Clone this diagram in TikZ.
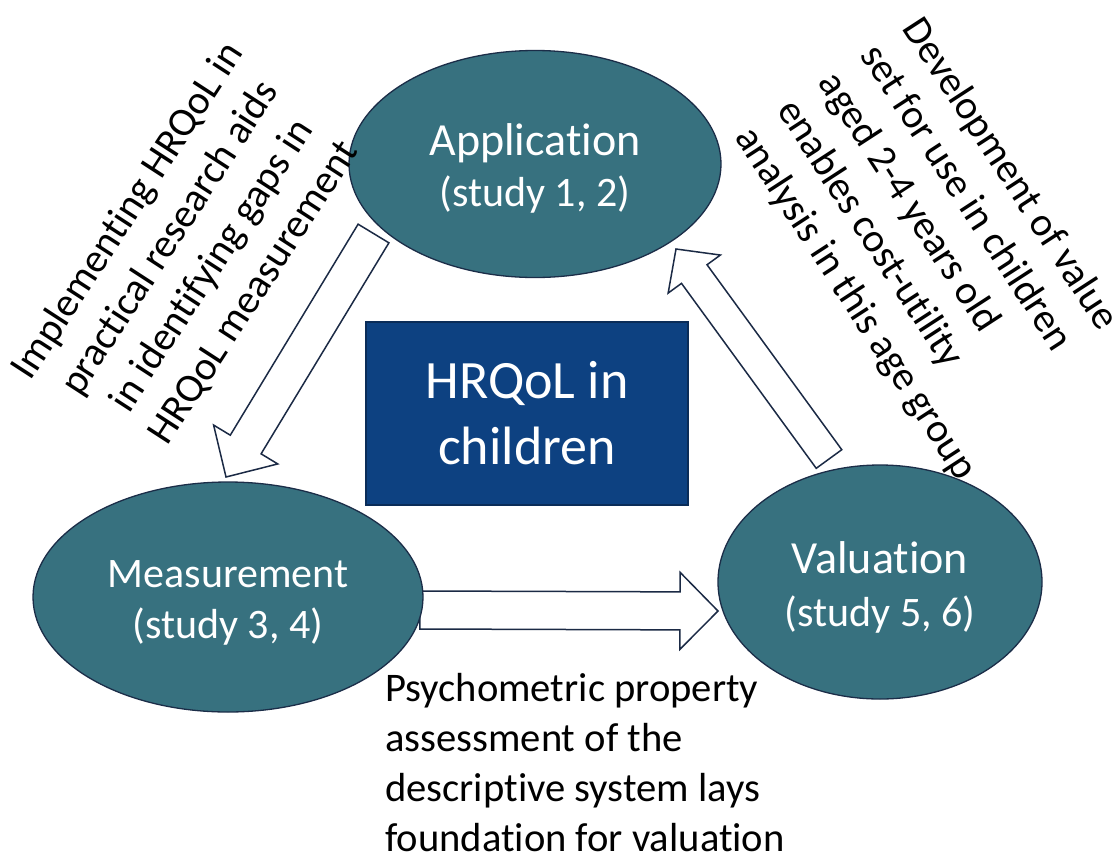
\documentclass[tikz,border=0pt]{standalone}
\usepackage{fontspec}
\setmainfont{Carlito}[Ligatures=NoCommon]
\usetikzlibrary{shapes.geometric,calc}
\pgfdeclarelayer{back}
\pgfsetlayers{back,main}

\definecolor{stagefill}{HTML}{37717F}
\definecolor{stageedge}{HTML}{1B2D48}
\definecolor{corefill}{HTML}{0D4181}
\definecolor{coreedge}{HTML}{0A2C58}
\definecolor{arrowedge}{HTML}{1B2A45}

\tikzset{
  stage/.style={ellipse, draw=stageedge, line width=1.3pt, fill=stagefill,
    inner sep=0pt},
  stagetext/.style={text=white, align=center, inner sep=0pt,
    font=\fontsize{42}{51}\selectfont},
  core/.style={rectangle, draw=coreedge, line width=1.3pt, fill=corefill,
    text=white, align=center, inner sep=0pt,
    font=\fontsize{54}{66}\selectfont},
  blockarr/.style={draw=arrowedge, fill=white, line width=1.5pt, line join=miter},
  note/.style={inner sep=0pt, text=black, font=\fontsize{40.6}{50}\selectfont},
}

% block arrow: #1 tail centre, #2 tip, #3 half shaft width,
% #4 half head width, #5 head length
\newcommand\blockarrow[5]{%
  \draw[blockarr] let \p1=($(#2)!#5!(#1)$) in
    ($(#1)!#3!90:(#2)$) -- ($(\p1)!#3!90:(#2)$) -- ($(\p1)!#4!90:(#2)$)
    -- (#2) -- ($(\p1)!#4!-90:(#2)$) -- ($(\p1)!#3!-90:(#2)$)
    -- ($(#1)!#3!-90:(#2)$) -- cycle;}

\newcommand\titlesize{\fontsize{46}{51}\selectfont}

\begin{document}
\begin{tikzpicture}[x=1pt,y=-1pt]
\useasboundingbox (0,0) rectangle (1114,852);
\begin{pgfonlayer}{back}
  \fill[white] (0,0) rectangle (1114,852);
\end{pgfonlayer}

% the three stages and the core topic
\node[stage, minimum width=372pt, minimum height=227pt] (app) at (535,164) {};
\node[stage, minimum width=390pt, minimum height=230pt] (meas) at (228,597) {};
\node[stage, minimum width=324pt, minimum height=234pt] (val) at (880,582) {};
\node[core, minimum width=322pt, minimum height=183pt] (core) at (527,413.5)
  {HRQoL in\\children};

\node[stagetext] (appt) at ($(app.center)+(0,4)$)
  {{\titlesize Application}\\(study 1, 2)};
\node[stagetext] (meast) at ($(meas.center)+(0,6)$)
  {Measurement\\(study 3, 4)};
\node[stagetext] (valt) at ($(val.center)+(0,5)$)
  {{\titlesize Valuation}\\[2pt](study 5, 6)};

% arrow end points
\coordinate (a1) at ($(app.center)+(-161.5,69.5)$);
\coordinate (a2) at ($(meas.center)+(-2,-120)$);
\coordinate (m1) at ($(meas.center)+(192,13)$);
\coordinate (m2) at ($(val.center)+(-162,29)$);
\coordinate (v1) at ($(val.center)+(-51,-123)$);
\coordinate (v2) at ($(app.center)+(141,85)$);

\begin{pgfonlayer}{back}
  \blockarrow{a1}{a2}{18pt}{37.5pt}{38pt}
  \blockarrow{m1}{m2}{19pt}{38.5pt}{38pt}
  \blockarrow{v1}{v2}{15.8pt}{32.3pt}{31pt}
\end{pgfonlayer}

% descriptions of the transitions
\node[note, align=center, rotate=57] (tapp) at (191,252)
  {Implementing HRQoL in\\practical research aids\\in identifying gaps in\\HRQoL measurement};
\node[note, align=left, rotate=-57, anchor=north west] (tval) at (925.5,12.7)
  {Development of value\\set for use in children\\aged 2-4 years old\\enables cost-utility\\analysis in this age group};
\node[note, align=left, anchor=north west] (tmeas) at (385,673)
  {Psychometric property\\assessment of the\\descriptive system lays\\foundation for valuation};
\end{tikzpicture}
\end{document}
